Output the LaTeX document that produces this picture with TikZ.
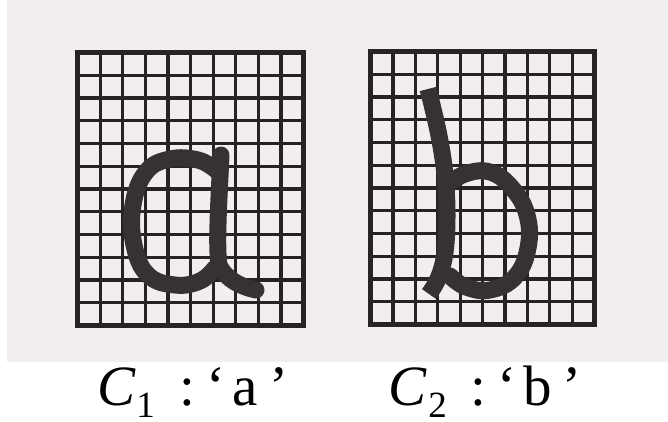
\documentclass[tikz,border=0pt]{standalone}
\usepackage{fontspec}
\setmainfont{Liberation Serif}
\definecolor{paper}{RGB}{242,238,238}
\definecolor{gridcol}{RGB}{38,35,35}
\definecolor{inkcol}{RGB}{55,50,50}
\tikzset{
  gridthin/.style={draw=gridcol, line width=3.2pt},
  gridframe/.style={draw=gridcol, line width=5pt},
  letterstroke/.style={draw=inkcol, line width=17pt, line cap=round, line join=round},
  labeltext/.style={inner sep=0pt, anchor=base, font=\fontsize{57}{60}\selectfont}
}
\newcommand{\subidx}[1]{\raisebox{-12pt}{\fontsize{37}{40}\selectfont #1}}
\begin{document}
\begin{tikzpicture}[x=1pt, y=-1pt]
\useasboundingbox (0,0) rectangle (668,421);
\fill[white] (0,0) rectangle (668,421);
\fill[paper] (7,0) rectangle (668,362);

% left grid
\foreach \i in {1,...,9} \draw[gridthin] ({77.5+\i*22.6},52.5) -- ({77.5+\i*22.6},325.5);
\foreach \j in {1,...,11} \draw[gridthin] (77.5,{52.5+\j*22.75}) -- (303.5,{52.5+\j*22.75});
\draw[gridframe] (77.5,52.5) rectangle (303.5,325.5);

% right grid
\foreach \i in {1,...,9} \draw[gridthin] ({370.5+\i*22.4},51.5) -- ({370.5+\i*22.4},324.5);
\foreach \j in {1,...,11} \draw[gridthin] (370.5,{51.5+\j*22.75}) -- (594.5,{51.5+\j*22.75});
\draw[gridframe] (370.5,51.5) rectangle (594.5,324.5);

% letter a
\draw[letterstroke] plot[smooth, tension=0.7] coordinates
  {(216,170) (198,160) (170,159) (146,172) (133,205) (134,245) (148,275) (175,285) (200,281) (215,268)};
\draw[letterstroke] (221,155) .. controls (219,200) and (216,245) .. (219,265)
  .. controls (226,280) and (242,287) .. (256,290);

% letter b
\draw[letterstroke, line cap=butt] (428,89) .. controls (440,135) and (447,170) .. (447,215)
  .. controls (447,255) and (443,275) .. (429,294);
\draw[letterstroke] plot[smooth, tension=0.7] coordinates
  {(446,186) (465,174) (490,172) (512,188) (527,215) (528,248) (515,277) (490,290) (466,287) (450,276)};

% labels
\node[labeltext] (l1) at (193,405) {\textit{C}\kern0pt\subidx{1}\hspace{25pt}:\hspace{11pt}‘\hspace{7pt}a\hspace{11pt}’};
\node[labeltext] (l2) at (485,405) {\textit{C}\kern1pt\subidx{2}\hspace{24pt}:\hspace{11pt}‘\hspace{7pt}b\hspace{10pt}’};
\end{tikzpicture}
\end{document}
